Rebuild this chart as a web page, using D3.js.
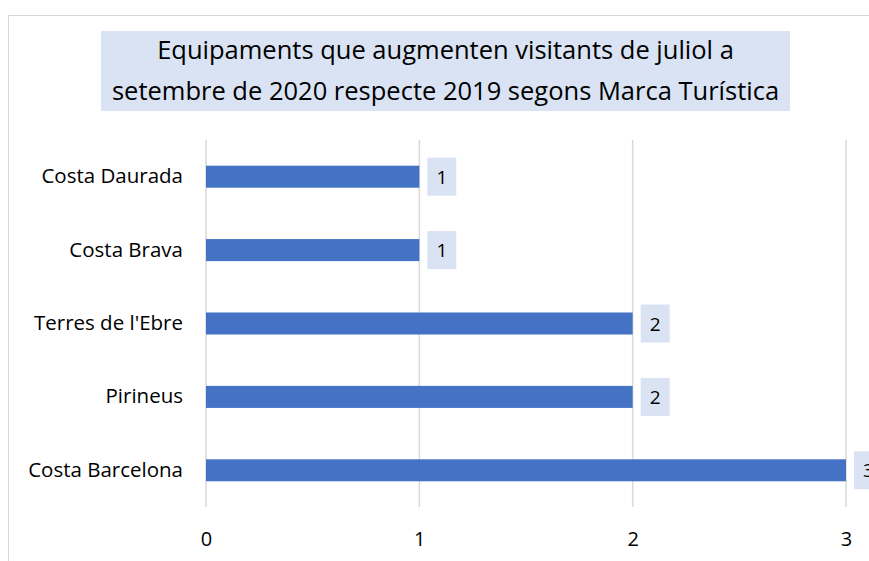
<!DOCTYPE html>
<html><head><meta charset="utf-8">
<script src="https://cdn.jsdelivr.net/npm/d3@7"></script>
<style>body{margin:0;background:#fff;} svg{display:block;font-family:"Open Sans",sans-serif;}</style>
</head><body>
<svg id="c" width="869" height="561"></svg>
<script>
const categories = ["Costa Daurada","Costa Brava","Terres de l'Ebre","Pirineus","Costa Barcelona"];
const values = [1,1,2,2,3];
const xTicks = [0,1,2,3];
const titleLines = ["Equipaments que augmenten visitants de juliol a","setembre de 2020 respecte 2019 segons Marca Turística"];

const svg = d3.select("#c");
// outer chart border
svg.append("rect").attr("x",8.5).attr("y",15.5).attr("width",900).attr("height",600)
  .attr("fill","#fff").attr("stroke","#d9d9d9").attr("stroke-width",1);

// title box
svg.append("rect").attr("x",101).attr("y",31).attr("width",689).attr("height",80).attr("fill","#dae3f3");
svg.append("g").selectAll("text").data(titleLines).join("text")
  .attr("x",445.5).attr("y",(d,i)=>59+i*41).attr("text-anchor","middle")
  .attr("font-size",25.5).attr("fill","#000").text(d=>d);

const x = d3.scaleLinear().domain([0,3]).range([206,846]);
const y = d3.scaleBand().domain(categories).range([140,507]).paddingInner(0.7).paddingOuter(0.35);

// gridlines
svg.append("g").selectAll("line").data(xTicks).join("line")
  .attr("x1",d=>x(d)).attr("x2",d=>x(d)).attr("y1",140).attr("y2",507)
  .attr("stroke","#d9d9d9").attr("stroke-width",1.5);

// bars
svg.append("g").selectAll("rect").data(values).join("rect")
  .attr("x",x(0)).attr("y",(d,i)=>y(categories[i])).attr("width",d=>x(d)-x(0))
  .attr("height",y.bandwidth()).attr("fill","#4472c4");

// data labels
const lg = svg.append("g").selectAll("g").data(values).join("g")
  .attr("transform",(d,i)=>`translate(${x(d)+8},${y(categories[i])+y.bandwidth()/2})`);
lg.append("rect").attr("x",0).attr("y",-19).attr("width",29).attr("height",38).attr("fill","#dae3f3");
lg.append("text").attr("x",14.5).attr("y",7).attr("text-anchor","middle").attr("font-size",19).text(d=>d);

// category labels
const yAxis = d3.axisLeft(y).tickSize(0).tickPadding(23);
const ya = svg.append("g").attr("transform",`translate(${x(0)},0)`).call(yAxis);
ya.select(".domain").remove();
ya.selectAll("text").attr("font-size",20.5).attr("fill","#000").attr("font-family","Open Sans, sans-serif");

// x axis labels
const xAxis = d3.axisBottom(x).tickValues(xTicks).tickSize(0).tickPadding(25).tickFormat(d3.format("d"));
const xa = svg.append("g").attr("transform",`translate(0,507)`).call(xAxis);
xa.select(".domain").remove();
xa.selectAll("text").attr("font-size",20).attr("fill","#000").attr("font-family","Open Sans, sans-serif");
</script>
</body></html>
